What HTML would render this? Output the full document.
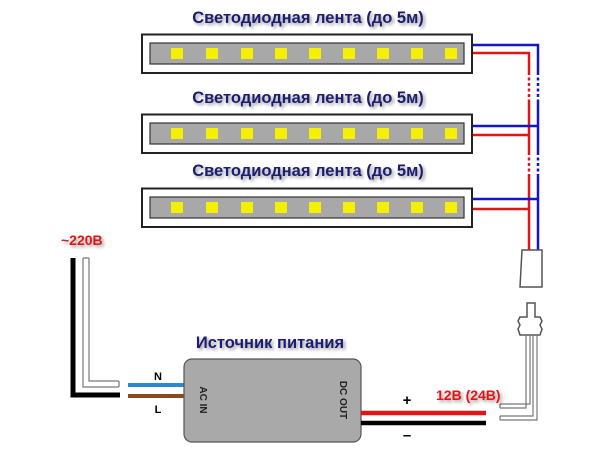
<!DOCTYPE html>
<html><head><meta charset="utf-8"><style>
html,body{margin:0;padding:0;background:#fff;width:600px;height:450px;overflow:hidden}
svg text{font-family:"Liberation Sans",sans-serif;font-weight:bold}
</style></head><body>
<svg width="600" height="450" viewBox="0 0 600 450" xmlns="http://www.w3.org/2000/svg">
<defs><filter id="sh" x="-10%" y="-30%" width="120%" height="160%"><feGaussianBlur in="SourceAlpha" stdDeviation="1.5"/><feOffset dx="2" dy="2"/><feComponentTransfer><feFuncA type="linear" slope="0.4"/></feComponentTransfer><feMerge><feMergeNode/><feMergeNode in="SourceGraphic"/></feMerge></filter></defs>
<g fill="#1c1c70" font-size="16.5" text-anchor="middle" filter="url(#sh)">
<text x="308" y="23">Светодиодная лента (до 5м)</text>
<text x="308" y="103">Светодиодная лента (до 5м)</text>
<text x="308" y="176">Светодиодная лента (до 5м)</text>
</g>
<g id="strips">
<g>
<rect x="142" y="34.5" width="330" height="38.5" fill="#fff" stroke="#222" stroke-width="2"/>
<rect x="150" y="43" width="314" height="21" fill="#a8a8a8" stroke="#333" stroke-width="1.2"/>
</g>
<g transform="translate(0,80)">
<rect x="142" y="34.5" width="330" height="38.5" fill="#fff" stroke="#222" stroke-width="2"/>
<rect x="150" y="43" width="314" height="21" fill="#a8a8a8" stroke="#333" stroke-width="1.2"/>
</g>
<g transform="translate(0,154)">
<rect x="142" y="34.5" width="330" height="38.5" fill="#fff" stroke="#222" stroke-width="2"/>
<rect x="150" y="43" width="314" height="21" fill="#a8a8a8" stroke="#333" stroke-width="1.2"/>
</g>
</g>
<g fill="#f5f000">
<g id="leds"><rect x="171" y="48" width="12" height="11"/><rect x="206" y="48" width="12" height="11"/><rect x="241" y="48" width="12" height="11"/><rect x="275" y="48" width="12" height="11"/><rect x="309" y="48" width="12" height="11"/><rect x="343" y="48" width="12" height="11"/><rect x="377" y="48" width="12" height="11"/><rect x="411" y="48" width="12" height="11"/><rect x="445" y="48" width="12" height="11"/></g>
<use href="#leds" y="80"/><use href="#leds" y="154"/>
</g>
<g fill="none" stroke-width="2.5">
<path d="M473 45H538V72M538 100V152M538 176V252" stroke="#1515c8"/>
<path d="M473 53H529V72M529 100V152M529 176V252" stroke="#e01515"/>
<path d="M538 72V100M538 152V176" stroke="#1515c8" stroke-dasharray="3 2.5"/>
<path d="M529 72V100M529 152V176" stroke="#e01515" stroke-dasharray="3 2.5"/>
<path d="M473 126H538M473 199H538" stroke="#1515c8"/>
<path d="M473 135H529M473 209H529" stroke="#e01515"/>
</g>
<path d="M522 250H542V287H520Z" fill="#fff" stroke="#555" stroke-width="1.5"/>
<path d="M527 303h8v14h5l2 4-2 4 2 4-2 6h-20l-2-6 2-4-2-4 2-4h7z" fill="#fff" stroke="#555" stroke-width="1.5"/>
<g fill="none" stroke="#777" stroke-width="1.2">
<path d="M526 335V408H500M530 335V404H500"/>
<path d="M533 335V416H500M537 335V420H500"/>
<path d="M500 404V408M500 416V420"/>
</g>
<path d="M73 258V395H120" fill="none" stroke="#000" stroke-width="5"/>
<path d="M83 258V387H119M89 258V381H119M83 258H89M119 381V387" fill="none" stroke="#777" stroke-width="1.2"/>
<path d="M128 385H184" stroke="#2a8ad0" stroke-width="4"/>
<path d="M128 396H184" stroke="#8a4a1e" stroke-width="4"/>
<text x="158" y="380" font-size="11" text-anchor="middle">N</text>
<text x="158" y="413" font-size="11" text-anchor="middle">L</text>
<rect x="184" y="359" width="177" height="83" rx="8" fill="#a9a9a9" stroke="#555" stroke-width="1.2"/>
<text transform="translate(200,400) rotate(90)" font-size="10" text-anchor="middle" fill="#222">AC IN</text>
<text transform="translate(340,400) rotate(90)" font-size="10" text-anchor="middle" fill="#222">DC OUT</text>
<path d="M361 413H486" stroke="#e01515" stroke-width="4.5"/>
<path d="M361 423H486" stroke="#000" stroke-width="4.5"/>
<text x="407" y="405" font-size="15" text-anchor="middle">+</text>
<text x="407" y="440" font-size="15" text-anchor="middle">–</text>
<g filter="url(#sh)">
<text x="270" y="348" font-size="16.5" fill="#1c1c70" text-anchor="middle">Источник питания</text>
<text x="436" y="400" font-size="14" fill="#e01515">12В (24В)</text>
<text x="61" y="245" font-size="14" fill="#e01515">~220В</text>
</g>
</svg>
</body></html>
